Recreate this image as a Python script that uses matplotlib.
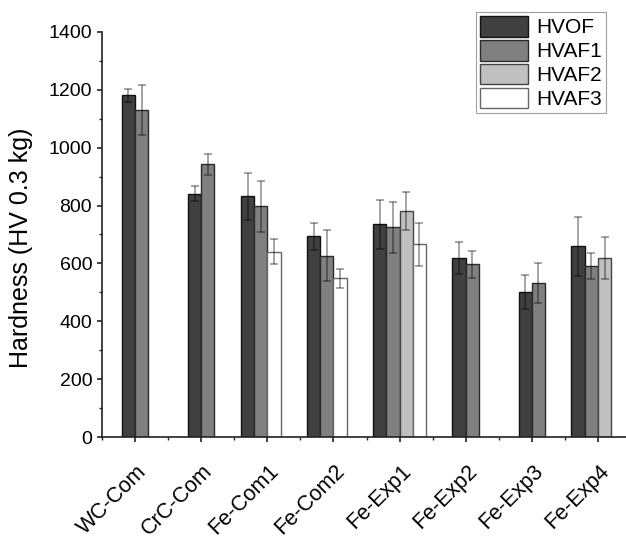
import numpy as np
import matplotlib
matplotlib.use("Agg")
import matplotlib.pyplot as plt
import matplotlib.transforms as mtransforms
from matplotlib.ticker import MultipleLocator
from matplotlib.patches import Patch

plt.rcParams['font.family'] = ['Liberation Sans', 'DejaVu Sans']

categories = ["WC-Com", "CrC-Com", "Fe-Com1", "Fe-Com2", "Fe-Exp1", "Fe-Exp2", "Fe-Exp3", "Fe-Exp4"]
series = ["HVOF", "HVAF1", "HVAF2", "HVAF3"]
# values (nan = not measured)
hvof = [1180, 840, 832, 694, 735, 618, 501, 659]
hvof_err = [22, 26, 81, 47, 85, 55, 60, 102]
hvaf1 = [1130, 942, 797, 626, 725, 597, 533, 591]
hvaf1_err = [86, 37, 87, 88, 88, 47, 70, 46]
hvaf2 = [np.nan, np.nan, np.nan, np.nan, 780, np.nan, np.nan, 619]
hvaf2_err = [np.nan, np.nan, np.nan, np.nan, 65, np.nan, np.nan, 73]
hvaf3 = [np.nan, np.nan, 640, 548, 666, np.nan, np.nan, np.nan]
hvaf3_err = [np.nan, np.nan, 43, 33, 75, np.nan, np.nan, np.nan]

values = [hvof, hvaf1, hvaf2, hvaf3]
errors = [hvof_err, hvaf1_err, hvaf2_err, hvaf3_err]
colors = ["#404040", "#808080", "#c0c0c0", "#ffffff"]
edges = ["#111111", "#2a2a2a", "#444444", "#666666"]

fig = plt.figure(figsize=(6.26, 5.39), dpi=100)
ax = fig.add_axes([0.163, 0.189, 0.845, 0.752])

width = 0.2
for i in range(len(categories)):
    present = [s for s in range(4) if not np.isnan(values[s][i])]
    n = len(present)
    slots = 2 if n == 2 else 4
    for rank, s in enumerate(present):
        off = (rank - (slots - 1) / 2) * width
        ax.bar(i + off, values[s][i], width=width, color=colors[s],
               edgecolor=edges[s], linewidth=1.0, zorder=2)
        ax.errorbar(i + off, values[s][i], yerr=errors[s][i], fmt='none',
                    ecolor='black', alpha=0.45, elinewidth=1.1, capsize=2.8,
                    capthick=1.1, zorder=3)

handles = [Patch(facecolor=colors[s], edgecolor=edges[s], linewidth=1.0, label=series[s]) for s in range(4)]

ax.set_xlim(-0.5, 7.5)
ax.set_ylim(0, 1400)
ax.set_xticks(range(len(categories)))
ax.set_xticklabels(categories, rotation=45, ha='right', va='baseline',
                   rotation_mode='anchor', fontsize=15.5)
ax.xaxis.set_minor_locator(MultipleLocator(0.5))
ax.yaxis.set_major_locator(MultipleLocator(200))
ax.yaxis.set_minor_locator(MultipleLocator(100))
ax.tick_params(axis='both', which='major', direction='out', length=3.6, width=1.2,
               labelsize=14, colors='#222222', labelcolor='black')
ax.tick_params(axis='x', which='major', labelsize=15.5, pad=21.6)
ax.tick_params(axis='both', which='minor', direction='out', length=2.5, width=1.0, colors='#222222')
offset = mtransforms.ScaledTranslation(0.12, 0, fig.dpi_scale_trans)
for lab in ax.xaxis.get_majorticklabels():
    lab.set_transform(lab.get_transform() + offset)
for side in ['top', 'right']:
    ax.spines[side].set_visible(False)
for side in ['left', 'bottom']:
    ax.spines[side].set_linewidth(1.2)
    ax.spines[side].set_color('#222222')

fig.text(21.5 / 626, 1 - 247.5 / 539, "Hardness (HV 0.3 kg)", rotation=90,
         ha='center', va='center', fontsize=18)

leg = fig.legend(handles=handles, loc='upper right', bbox_to_anchor=(0.968, 0.978),
                 fontsize=15, frameon=True, fancybox=False, edgecolor='#888888',
                 handlelength=2.3, handleheight=1.15, labelspacing=0.12,
                 borderpad=0.2, handletextpad=0.4, borderaxespad=0)
leg.get_frame().set_linewidth(0.8)

fig.savefig("out.png", dpi=100)
